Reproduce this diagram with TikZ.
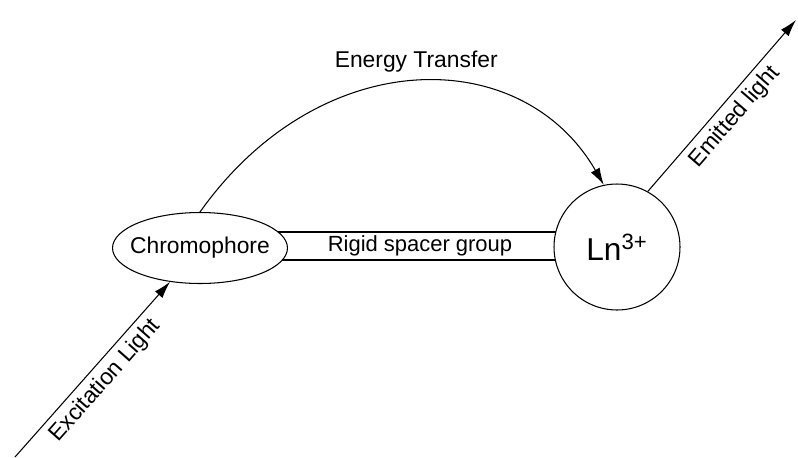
\documentclass[tikz,border=0pt]{standalone}
\usepackage{fontspec}
\setmainfont{Liberation Sans}
\usepackage{tikz}
\usetikzlibrary{arrows.meta, positioning, shapes.geometric}

\tikzset{
    lbl/.style={font=\fontsize{13}{15}\selectfont},
    ray/.style={line width=0.6pt, -{Latex[length=3.4mm, width=2mm]}}
}

\begin{document}
\begin{tikzpicture}[x=0.02cm, y=-0.02cm, line width=0.6pt]
    \useasboundingbox (0,0) rectangle (798,457);
    \node[draw, minimum width=6cm, minimum height=0.56cm, inner sep=0pt, font=\fontsize{12.5}{14}\selectfont] (spacer) at (420,246) {Rigid spacer group};
    \node[draw, ellipse, fill=white, minimum width=3.5cm, minimum height=1.42cm, inner sep=0pt, lbl] (chromophore) at (200,248) {\makebox[2cm]{Chromophore}};
    \node[draw, circle, fill=white, minimum size=2.52cm, inner sep=0pt, font=\fontsize{18}{20}\selectfont] (ln) at (617,247) {Ln\textsuperscript{3+}};
    \coordinate (exc) at (15,457);
    \coordinate (emit) at (796,20);
    \draw[ray] (chromophore.north) .. controls (320,43) and (522,43) .. (ln.102) node[midway, above=2pt, lbl] (et) {Energy Transfer};
    \draw[ray] (exc) -- (chromophore) node[midway, sloped, below, lbl] (exclabel) {Excitation Light};
    \draw[ray] (ln.61) -- (emit) node[midway, sloped, below, lbl] (emitlabel) {Emitted light};
\end{tikzpicture}
\end{document}
